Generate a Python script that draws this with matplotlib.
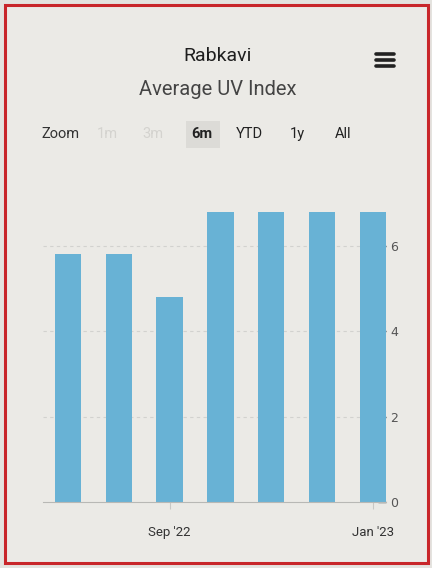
import matplotlib.pyplot as plt
from matplotlib.patches import Rectangle

months = ["Jul '22", "Aug '22", "Sep '22", "Oct '22", "Nov '22", "Dec '22", "Jan '23"]
uv_index = [5.8, 5.8, 4.8, 6.8, 6.8, 6.8, 6.8]
shown_labels = {"Sep '22", "Jan '23"}
y_ticks = [0, 2, 4, 6]
zoom_buttons = ["1m", "3m", "6m", "YTD", "1y", "All"]
zoom_x = [107, 153, 202, 249, 297, 343]

W, H = 432, 568
fig = plt.figure(figsize=(W / 100, H / 100), dpi=100)
fig.patch.set_facecolor('#e4e3df')

# red frame around the chart card
fig.patches.append(Rectangle((5 / W, 5 / H), 423 / W, 558 / H, transform=fig.transFigure,
                             facecolor='#ebeae6', edgecolor='#c8262a', linewidth=2.2,
                             zorder=-10))


def fy(y):
    return 1 - y / H


fig.text(218 / W, fy(56), 'Rabkavi', ha='center', va='center', fontsize=14,
         family='Roboto', color='#1e1e1e')
fig.text(218 / W, fy(89), 'Average UV Index', ha='center', va='center', fontsize=14.5,
         family='Roboto', color='#444444')

# hamburger menu
for dy in (-6, 0, 6):
    fig.add_artist(plt.Line2D([376 / W, 394 / W], [fy(60 + dy), fy(60 + dy)],
                              color='#222222', linewidth=2.6, solid_capstyle='round'))

fig.text(61 / W, fy(134), 'Zoom', ha='center', va='center', fontsize=10.5,
         family='Roboto', color='#333333')
fig.patches.append(Rectangle((186 / W, fy(148)), 34 / W, 27 / H, transform=fig.transFigure,
                             facecolor='#dcdbd7', edgecolor='none', zorder=-5))
for lab, x in zip(zoom_buttons, zoom_x):
    if lab in ('1m', '3m'):
        fig.text(x / W, fy(134), lab, ha='center', va='center', fontsize=10.5,
                 family='Roboto', color='#d4d3cf')
    else:
        fig.text(x / W, fy(134), lab, ha='center', va='center', fontsize=10.5,
                 family='Roboto', color='#222222',
                 fontweight='bold' if lab == '6m' else 'normal')

ax = fig.add_axes([42.6 / W, 66 / H, 343.4 / W, 299 / H])
ax.set_facecolor('none')
xs = list(range(len(months)))
ax.bar(xs, uv_index, width=0.52, color='#68b2d5', zorder=2)
ax.set_xlim(-0.5, 6.26)
ax.set_ylim(0, 7)

for t in y_ticks[1:]:
    ax.axhline(t, color='#d2d2cf', linestyle=(0, (3, 3)), linewidth=0.8, zorder=1)

for s in ('top', 'left', 'right'):
    ax.spines[s].set_visible(False)
ax.spines['bottom'].set_color('#b8b8b5')

ax.yaxis.tick_right()
ax.set_yticks(y_ticks)
ax.tick_params(axis='y', direction='in', length=6, width=1, color='#3a4a55',
               labelsize=9, labelcolor='#555555', pad=3)
ax.set_xticks([i for i, m in enumerate(months) if m in shown_labels])
ax.set_xticklabels([m for m in months if m in shown_labels], family='Roboto')
ax.tick_params(axis='x', length=5, color='#c8c8c5', labelsize=9.5, labelcolor='#333333', pad=12)

fig.savefig('out.png', dpi=100, facecolor=fig.get_facecolor())
